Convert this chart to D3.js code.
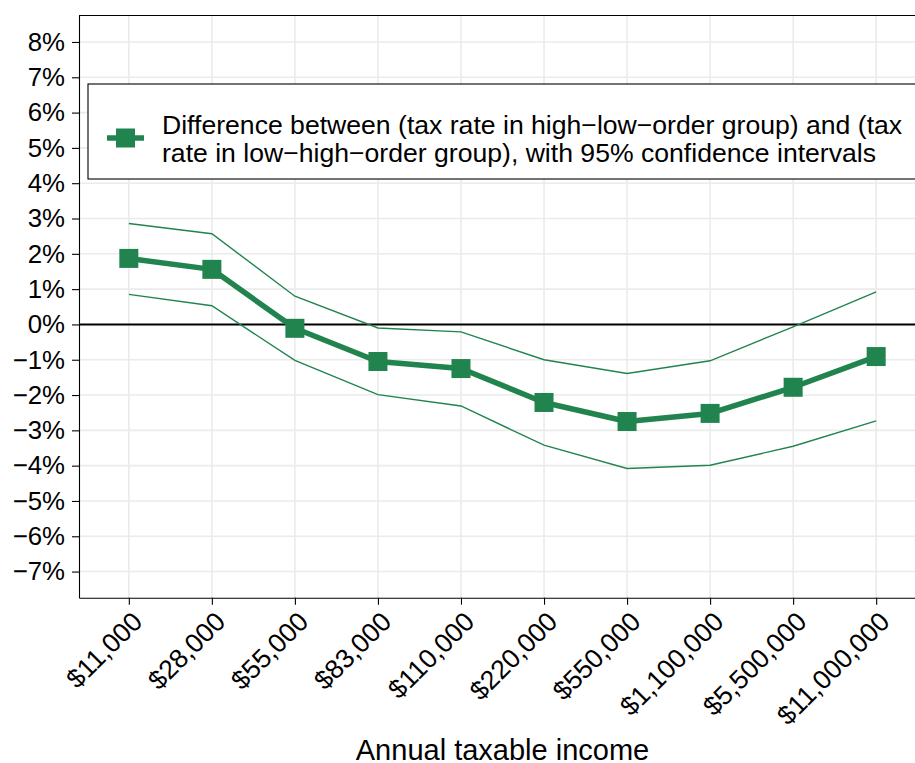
<!DOCTYPE html>
<html lang="en">
    <head>
        <meta charset="utf-8">
        <title>Tax rate difference by income</title>
        <style>
            body {
                margin : 0;
                background : #fff;
            }
            text {
                font-family : "Liberation Sans", Arial, sans-serif;
                fill : #000;
            }
            .grid line {
                stroke : #ebebeb;
                stroke-width : 1.6;
            }
            .axis path , .axis line {
                stroke : #000;
                stroke-width : 1.1;
            }
        </style>
    </head>
    <body>
        <div id="chart"></div>
    </body>

    <script type="text/javascript" src="https://cdn.jsdelivr.net/npm/d3@7/dist/d3.min.js" charset="utf-8"></script>

    <script>

    // values (percentage points)
    var incomes = [ "$11,000" , "$28,000" , "$55,000" , "$83,000" , "$110,000" , "$220,000" , "$550,000" , "$1,100,000" , "$5,500,000" , "$11,000,000" ];
    var diff  = [ 1.87 , 1.56 , -0.11 , -1.05 , -1.25 , -2.21 , -2.75 , -2.52 , -1.78 , -0.91 ];
    var lower = [ 0.85 , 0.53 , -1.02 , -1.99 , -2.31 , -3.42 , -4.08 , -3.99 , -3.45 , -2.73 ];
    var upper = [ 2.86 , 2.57 , 0.80 , -0.10 , -0.21 , -1.00 , -1.39 , -1.03 , -0.07 , 0.92 ];
    var yticks = [ 8 , 7 , 6 , 5 , 4 , 3 , 2 , 1 , 0 , -1 , -2 , -3 , -4 , -5 , -6 , -7 ];
    var legend_lines = [ "Difference between (tax rate in high\u2212low\u2212order group) and (tax" ,
                         "rate in low\u2212high\u2212order group), with 95% confidence intervals" ];
    var x_title = "Annual taxable income";

    var green = "#21844e";
    var width = 915 , height = 763;
    // the panel runs a bit past the right edge of the picture
    var p_left = 79 , p_right = 926 , p_top = 15.5 , p_bottom = 597.7;

    var svg = d3.select( "#chart" ).append( "svg" )
        .attr( "width" , width )
        .attr( "height" , height );

    var x = d3.scalePoint()
        .domain( incomes )
        .range( [ p_left , p_right ] )
        .padding( 0.6 );

    var y = d3.scaleLinear()
        .domain( [ -7.74 , 8.75 ] )
        .range( [ p_bottom , p_top ] );

    // grid
    var grid = svg.append( "g" ).attr( "class" , "grid" );
    grid.selectAll( ".gy" )
        .data( yticks )
        .enter().append( "line" )
            .attr( "x1" , p_left ).attr( "x2" , width )
            .attr( "y1" , function( d ) { return y( d ); } )
            .attr( "y2" , function( d ) { return y( d ); } );
    grid.selectAll( ".gx" )
        .data( incomes )
        .enter().append( "line" )
            .attr( "x1" , function( d ) { return x( d ); } )
            .attr( "x2" , function( d ) { return x( d ); } )
            .attr( "y1" , p_top ).attr( "y2" , p_bottom );

    // zero line
    svg.append( "line" )
        .attr( "x1" , p_left ).attr( "x2" , width )
        .attr( "y1" , y( 0 ) ).attr( "y2" , y( 0 ) )
        .style( "stroke" , "#000" )
        .style( "stroke-width" , 2 );

    function series( values )
    {
        return incomes.map( function( d , i ) { return { "key" : d , "value" : values[i] }; } );
    }

    var line = d3.line()
        .x( function( d ) { return x( d.key ); } )
        .y( function( d ) { return y( d.value ); } );

    [ lower , upper ].forEach( function( v ) {
        svg.append( "path" )
            .datum( series( v ) )
            .attr( "d" , line )
            .style( "fill" , "none" )
            .style( "stroke" , green )
            .style( "stroke-width" , 1.4 );
    } );

    svg.append( "path" )
        .datum( series( diff ) )
        .attr( "d" , line )
        .style( "fill" , "none" )
        .style( "stroke" , green )
        .style( "stroke-width" , 5.5 )
        .style( "stroke-linejoin" , "round" );

    var msize = 19;
    svg.selectAll( ".marker" )
        .data( series( diff ) )
        .enter().append( "rect" )
            .attr( "class" , "marker" )
            .attr( "x" , function( d ) { return x( d.key ) - msize / 2; } )
            .attr( "y" , function( d ) { return y( d.value ) - msize / 2; } )
            .attr( "width" , msize )
            .attr( "height" , msize )
            .style( "fill" , green );

    // axes
    var yaxis = svg.append( "g" )
        .attr( "class" , "axis" )
        .attr( "transform" , "translate(" + p_left + ",0)" )
        .call( d3.axisLeft( y ).tickValues( yticks ).tickSize( 7 ).tickSizeOuter( 0 ).tickPadding( 7 )
            .tickFormat( function( d ) { return ( d < 0 ? "\u2212" + ( -d ) : d ) + "%"; } ) );
    yaxis.selectAll( "text" )
        .style( "font-size" , "25.8px" )
        .attr( "fill" , "#000" );

    var xaxis = svg.append( "g" )
        .attr( "class" , "axis" )
        .attr( "transform" , "translate(0," + p_bottom + ")" )
        .call( d3.axisBottom( x ).tickSize( 7 ).tickSizeOuter( 0 ) );
    xaxis.selectAll( "text" )
        .attr( "fill" , "#000" )
        .style( "font-size" , "26.6px" )
        .style( "text-anchor" , "end" )
        .attr( "x" , 0 )
        .attr( "y" , 0 )
        .attr( "dy" , "0.72em" )
        .attr( "transform" , "translate(1,12) rotate(-45)" );

    // panel top border
    svg.append( "line" )
        .attr( "x1" , p_left ).attr( "x2" , p_right )
        .attr( "y1" , p_top ).attr( "y2" , p_top )
        .style( "stroke" , "#000" )
        .style( "stroke-width" , 1.1 );

    svg.append( "text" )
        .attr( "x" , ( p_left + p_right ) / 2 )
        .attr( "y" , 759.5 )
        .attr( "text-anchor" , "middle" )
        .style( "font-size" , "29px" )
        .text( x_title );

    // legend
    var legend = svg.append( "g" ).attr( "transform" , "translate(88,84)" );
    legend.append( "rect" )
        .attr( "x" , 0 ).attr( "y" , 0 )
        .attr( "width" , 900 ).attr( "height" , 95 )
        .style( "fill" , "#fff" )
        .style( "stroke" , "#000" )
        .style( "stroke-width" , 1.1 );
    legend.append( "line" )
        .attr( "x1" , 19 ).attr( "x2" , 56 )
        .attr( "y1" , 54 ).attr( "y2" , 54 )
        .style( "stroke" , green )
        .style( "stroke-width" , 5.5 );
    legend.append( "rect" )
        .attr( "x" , 37.5 - msize / 2 ).attr( "y" , 54 - msize / 2 )
        .attr( "width" , msize ).attr( "height" , msize )
        .style( "fill" , green );
    legend.selectAll( ".ltext" )
        .data( legend_lines )
        .enter().append( "text" )
            .attr( "x" , 74 )
            .attr( "y" , function( d , i ) { return 50 + i * 28.3; } )
            .style( "font-size" , "26.6px" )
            .text( function( d ) { return d; } );

    </script>
</html>
